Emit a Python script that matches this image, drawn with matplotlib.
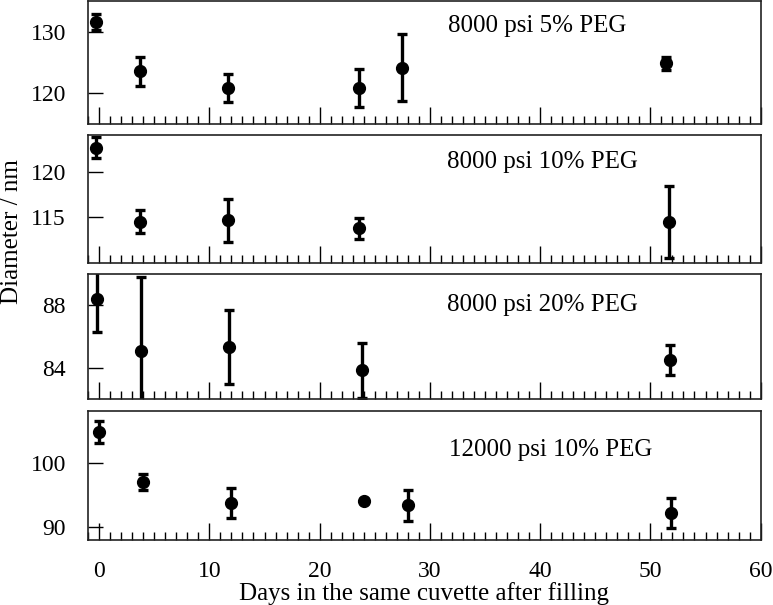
import numpy as np
import matplotlib
matplotlib.use("Agg")
import matplotlib.pyplot as plt
from matplotlib.ticker import MultipleLocator

plt.rcParams["font.family"] = "Liberation Serif"
plt.rcParams["mathtext.default"] = "regular"

# 8000 psi 5% PEG
days_1 = [-0.3, 3.7, 11.65, 23.55, 27.5, 51.4]
diam_1 = [131.6, 123.6, 120.9, 120.9, 124.2, 124.9]
err_1 = [1.25, 2.35, 2.3, 3.05, 5.4, 1.05]

# 8000 psi 10% PEG
days_2 = [-0.3, 3.7, 11.7, 23.6, 51.7]
diam_2 = [122.6, 114.5, 114.7, 113.8, 114.5]
err_2 = [1.15, 1.25, 2.35, 1.15, 3.95]

# 8000 psi 20% PEG
days_3 = [-0.2, 3.8, 11.8, 23.8, 51.8]
diam_3 = [88.4, 85.1, 85.35, 83.85, 84.5]
err_3 = [2.1, 4.7, 2.35, 1.75, 0.95]

# 12000 psi 10% PEG
days_4 = [0.0, 4.0, 12.0, 24.0, 28.0, 51.9]
diam_4 = [104.7, 97.0, 93.7, 94.0, 93.4, 92.2]
err_4 = [1.7, 1.2, 2.3, 0.3, 2.35, 2.3]

labels = ["8000 psi 5% PEG", "8000 psi 10% PEG", "8000 psi 20% PEG", "12000 psi 10% PEG"]
ylims = [(115, 135), (110, 124), (82, 90), (88, 108)]
yticks = [[120, 130], [115, 120], [84, 88], [90, 100]]
label_y = [0.80, 0.79, 0.75, 0.70]
label_x = [39.7, 40.2, 40.2, 41.0]

data = [(days_1, diam_1, err_1), (days_2, diam_2, err_2),
        (days_3, diam_3, err_3), (days_4, diam_4, err_4)]

# panel boxes in figure fraction (bottom, top)
boxes = [(0.795, 0.998), (0.565, 0.777), (0.340, 0.547), (0.107, 0.321)]
left, right = 0.114, 0.984

fig = plt.figure(figsize=(7.73, 6.05), dpi=100)

for i, (d, y, e) in enumerate(data):
    b, t = boxes[i]
    ax = fig.add_axes([left, b, right - left, t - b])
    ax.errorbar(d, y, yerr=e, fmt="o", color="black", ms=8.5,
                elinewidth=2.4, capsize=3.6, capthick=2.4)
    ax.set_xlim(-1, 60)
    ax.set_ylim(*ylims[i])
    ax.set_yticks(yticks[i])
    ax.xaxis.set_major_locator(MultipleLocator(10))
    ax.xaxis.set_minor_locator(MultipleLocator(1))
    ax.tick_params(axis="x", which="major", direction="in", length=12, width=1, top=False)
    ax.tick_params(axis="x", which="minor", direction="in", length=6, width=1, top=False)
    ax.tick_params(axis="y", which="major", direction="in", length=11, width=1,
                   labelsize=17, pad=16, right=False)
    ax.text(label_x[i], ylims[i][0] + label_y[i] * (ylims[i][1] - ylims[i][0]), labels[i],
            ha="center", va="center", fontsize=18)
    for s in ax.spines.values():
        s.set_linewidth(1.2)
        s.set_color("#222222")
    if i < 3:
        ax.tick_params(axis="x", labelbottom=False)
    else:
        ax.tick_params(axis="x", labelsize=17, pad=15)
        ax.set_xlabel("Days in the same cuvette after filling", fontsize=18, labelpad=0)

fig.text(0.015, 0.618, "Diameter / nm", rotation=90, ha="center", va="center", fontsize=18)

fig.savefig("out.png", dpi=100)
